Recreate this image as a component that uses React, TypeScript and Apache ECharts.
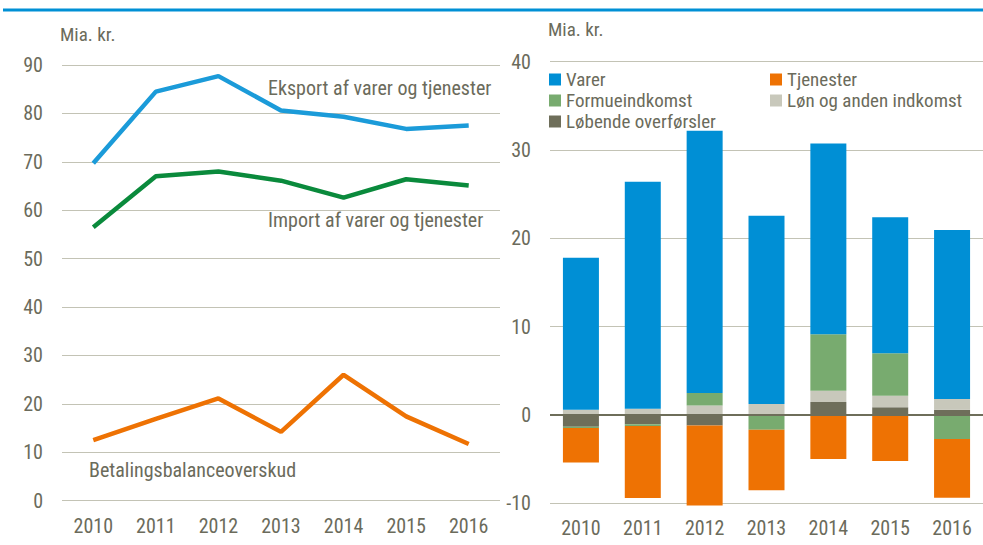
import React, { useEffect, useRef } from "react";
import * as echarts from "echarts";

const years = ["2010", "2011", "2012", "2013", "2014", "2015", "2016"];

const eksport = [69.7, 84.5, 87.7, 80.6, 79.3, 76.8, 77.5];
const importVals = [56.5, 67.0, 68.0, 66.1, 62.6, 66.4, 65.1];
const betaling = [12.5, 16.9, 21.1, 14.2, 26.0, 17.4, 11.7];

const varer = [17.2, 25.7, 29.7, 21.3, 21.6, 15.4, 19.15];
const tjenester = [-3.9, -8.15, -9.06, -6.87, -4.98, -5.2, -6.64];
const formue = [-0.15, -0.2, 1.43, -1.66, 6.4, 4.8, -2.72];
const loen = [0.6, 0.7, 1.06, 1.25, 1.28, 1.32, 1.2];
const loebende = [-1.32, -1.06, -1.2, 0, 1.47, 0.87, 0.6];

const leftTicks = { min: 0, max: 90, interval: 10 };
const rightTicks = { min: -10, max: 40, interval: 10 };

const FONT = "'Roboto Condensed', 'Liberation Sans Narrow', 'Liberation Sans', sans-serif";
const TXT = "#6b6b5b";
const GRID = "#c3c3b5";

export default function App() {
  const ref = useRef<HTMLDivElement>(null);
  useEffect(() => {
    if (!ref.current) return;
    const chart = echarts.init(ref.current, undefined, { renderer: "svg" });
    const axisLabel = { color: TXT, fontSize: 20, fontFamily: FONT };
    const legendText = { color: TXT, fontSize: 19, fontFamily: FONT, lineHeight: 21 };
    const barBase = (name: string, data: number[], color: string) => ({
      name,
      type: "bar",
      xAxisIndex: 1,
      yAxisIndex: 1,
      stack: "total",
      barWidth: 36,
      clip: false,
      data,
      itemStyle: { color },
    });
    chart.setOption({
      animation: false,
      textStyle: { fontFamily: FONT },
      grid: [
        { left: 62, right: 483, top: 65, bottom: 44.4 },
        { left: 550, right: -9, top: 61.7, bottom: 41.7 },
      ],
      xAxis: [
        {
          type: "category",
          gridIndex: 0,
          data: years,
          axisLine: { show: false },
          axisTick: { show: false },
          axisLabel: { ...axisLabel, margin: 15 },
        },
        {
          type: "category",
          gridIndex: 1,
          data: years,
          axisLine: { show: false },
          axisTick: { show: false },
          axisLabel: { ...axisLabel, margin: 15 },
        },
      ],
      yAxis: [
        {
          type: "value",
          gridIndex: 0,
          ...leftTicks,
          axisLine: { show: false },
          axisTick: { show: false },
          axisLabel: { ...axisLabel, margin: 19 },
          splitLine: { lineStyle: { color: GRID, width: 1 } },
        },
        {
          type: "value",
          gridIndex: 1,
          ...rightTicks,
          axisLine: { show: false },
          axisTick: { show: false },
          axisLabel: { ...axisLabel, margin: 19 },
          splitLine: { lineStyle: { color: GRID, width: 1 } },
        },
      ],
      legend: [
        {
          data: ["Varer", "Formueindkomst", "Løbende overførsler"],
          orient: "vertical",
          left: 549,
          top: 69,
          padding: 0,
          itemGap: 0,
          itemWidth: 12,
          itemHeight: 12,
          icon: "rect",
          textStyle: legendText,
        },
        {
          data: ["Tjenester", "Løn og anden indkomst"],
          orient: "vertical",
          left: 770,
          top: 69,
          padding: 0,
          itemGap: 0,
          itemWidth: 12,
          itemHeight: 12,
          icon: "rect",
          textStyle: legendText,
        },
      ],
      graphic: [
        {
          type: "line",
          shape: { x1: 3, y1: 10, x2: 983, y2: 10 },
          style: { stroke: "#0090d5", lineWidth: 3 },
        },
        {
          type: "text",
          left: 60,
          top: 25,
          style: { text: "Mia. kr.", fill: TXT, fontSize: 19, fontFamily: FONT },
        },
        {
          type: "text",
          left: 548,
          top: 20,
          style: { text: "Mia. kr.", fill: TXT, fontSize: 19, fontFamily: FONT },
        },
        {
          type: "text",
          left: 268,
          top: 78,
          style: { text: "Eksport af varer og tjenester", fill: TXT, fontSize: 20, fontFamily: FONT },
        },
        {
          type: "text",
          left: 268,
          top: 210,
          style: { text: "Import af varer og tjenester", fill: TXT, fontSize: 20, fontFamily: FONT },
        },
        {
          type: "text",
          left: 89,
          top: 460,
          style: { text: "Betalingsbalanceoverskud", fill: TXT, fontSize: 20, fontFamily: FONT },
        },
      ],
      series: [
        {
          name: "Eksport af varer og tjenester",
          type: "line",
          xAxisIndex: 0,
          yAxisIndex: 0,
          data: eksport,
          showSymbol: false,
          symbol: "none",
          lineStyle: { color: "#1b9bd9", width: 4.5 },
        },
        {
          name: "Import af varer og tjenester",
          type: "line",
          xAxisIndex: 0,
          yAxisIndex: 0,
          data: importVals,
          showSymbol: false,
          symbol: "none",
          lineStyle: { color: "#0a8a3c", width: 4.5 },
        },
        {
          name: "Betalingsbalanceoverskud",
          type: "line",
          xAxisIndex: 0,
          yAxisIndex: 0,
          data: betaling,
          showSymbol: false,
          symbol: "none",
          lineStyle: { color: "#ee7203", width: 4.5 },
        },
        {
          ...barBase("Løbende overførsler", loebende, "#6e6e5a"),
          markLine: {
            silent: true,
            symbol: "none",
            label: { show: false },
            lineStyle: { color: "#6e6e5a", type: "solid", width: 2 },
            data: [{ yAxis: 0 }],
          },
        },
        barBase("Løn og anden indkomst", loen, "#c8c8bb"),
        barBase("Formueindkomst", formue, "#78ab6f"),
        barBase("Tjenester", tjenester, "#ee7203"),
        barBase("Varer", varer, "#008fd5"),
      ],
    });
    return () => chart.dispose();
  }, []);
  return (
    <div
      ref={ref}
      style={{ position: "absolute", left: 0, top: 0, width: 983, height: 545, background: "#fff" }}
    />
  );
}
